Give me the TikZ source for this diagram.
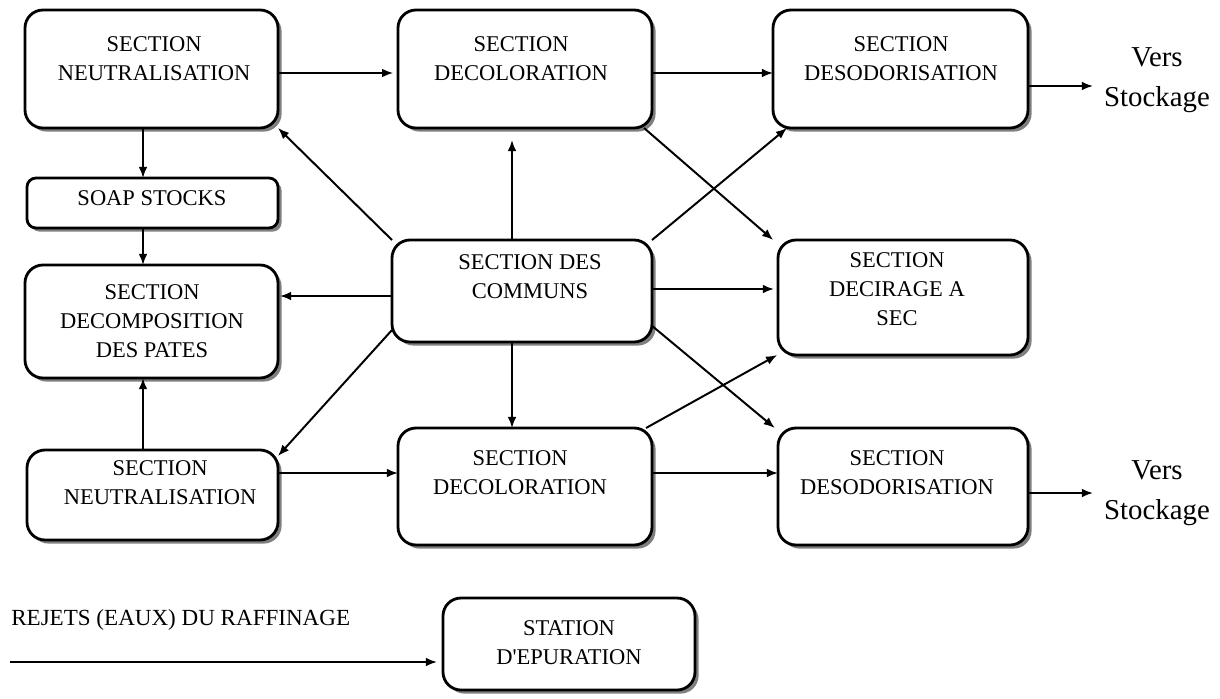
\documentclass[tikz,border=0pt]{standalone}
\usepackage{fontspec}
\setmainfont{Liberation Serif}[Ligatures=TeXOff]
\usetikzlibrary{arrows.meta,shadows}
\newlength\pxu
\pxu=0.025cm
\begin{document}
\begin{tikzpicture}[x=0.025cm,y=-0.025cm,
  procbox/.style={draw=black,line width=2pt,fill=white,rounded corners=18\pxu,
    inner sep=0pt,outer sep=0pt,
    drop shadow={shadow xshift=0.09cm,shadow yshift=-0.09cm,fill=black,opacity=0.5}},
  txt/.style={align=center,inner sep=0pt,font=\fontsize{16}{20.6}\selectfont},
  vers/.style={align=center,inner sep=0pt,font=\fontsize{20.5}{28.5}\selectfont},
  arr/.style={line width=1.4pt,-{Latex[length=0.28cm,width=0.22cm]}}]
\useasboundingbox (0,0) rectangle (1220,698);

% boxes
\node[procbox,minimum width=253\pxu,minimum height=118\pxu] (n1) at (151.5,69) {};
\node[procbox,minimum width=254\pxu,minimum height=118\pxu] (d1) at (525,69) {};
\node[procbox,minimum width=255\pxu,minimum height=118\pxu] (s1) at (900.5,69) {};
\node[procbox,rounded corners=9\pxu,minimum width=251\pxu,minimum height=50\pxu] (soap) at (152.5,203) {};
\node[procbox,minimum width=253\pxu,minimum height=113\pxu] (dcp) at (151.5,321.5) {};
\node[procbox,minimum width=260\pxu,minimum height=102\pxu] (com) at (522,291) {};
\node[procbox,minimum width=250\pxu,minimum height=115\pxu] (dec) at (903,297.5) {};
\node[procbox,minimum width=251\pxu,minimum height=90\pxu] (n2) at (152.5,495) {};
\node[procbox,minimum width=254\pxu,minimum height=117\pxu] (d2) at (525,486.5) {};
\node[procbox,minimum width=250\pxu,minimum height=117\pxu] (s2) at (903,486.5) {};
\node[procbox,minimum width=252\pxu,minimum height=92\pxu] (st) at (569,644) {};

% box texts
\node[txt] (tn1) at (154,58.5) {SECTION\\NEUTRALISATION};
\node[txt] (td1) at (521,58.5) {SECTION\\DECOLORATION};
\node[txt] (ts1) at (901,58.5) {SECTION\\DESODORISATION};
\node[txt] (tsoap) at (152,198) {SOAP STOCKS};
\node[txt] (tdcp) at (152,321) {SECTION\\DECOMPOSITION\\DES PATES};
\node[txt] (tcom) at (530,277) {SECTION DES\\COMMUNS};
\node[txt] (tdec) at (897,289) {SECTION\\DECIRAGE A\\SEC};
\node[txt] (tn2) at (160,483) {SECTION\\NEUTRALISATION};
\node[txt] (td2) at (520,473) {SECTION\\DECOLORATION};
\node[txt] (ts2) at (897,473) {SECTION\\DESODORISATION};
\node[txt] (tst) at (569,643) {STATION\\D'EPURATION};
\node[vers] (v1t) at (1157,80) {Vers\\Stockage};
\node[vers] (v2t) at (1157,493.5) {Vers\\Stockage};
\node[txt,anchor=west,font=\fontsize{16.4}{20}\selectfont] (rej) at (11,620) {REJETS (EAUX) DU RAFFINAGE};

% reference lines for straight connectors
\coordinate (lx) at (143,0);
\coordinate (mx) at (512,0);
\coordinate (r1) at (0,73);
\coordinate (r2) at (0,473);
\coordinate (rc) at (0,289);
\coordinate (rd) at (0,296);
\coordinate (v1) at (1093,86);
\coordinate (v2) at (1093,493);
\coordinate (rj) at (10,662);

% straight connectors
\draw[arr,shorten >=0.12cm] (n1.east |- r1) -- (d1.west |- r1);
\draw[arr] (d1.east |- r1) -- (s1.west |- r1);
\draw[arr] (s1.east |- v1) -- (v1);
\draw[arr] (n2.east |- r2) -- (d2.west |- r2);
\draw[arr] (d2.east |- r2) -- (s2.west |- r2);
\draw[arr] (s2.east |- v2) -- (v2);
\draw[arr] (n1.south -| lx) -- (soap.north -| lx);
\draw[arr] (soap.south -| lx) -- (dcp.north -| lx);
\draw[arr] (n2.north -| lx) -- (dcp.south -| lx);
\draw[arr,shorten >=0.3cm] (com.north -| mx) -- (d1.south -| mx);
\draw[arr] (com.south -| mx) -- (d2.north -| mx);
\draw[arr,shorten >=0.1cm] (com.east |- rc) -- (dec.west |- rc);
\draw[arr,shorten >=0.05cm] (com.west |- rd) -- (dcp.east |- rd);
\draw[arr,shorten >=0.15cm] (rj) -- (rj -| st.west);

% diagonal connectors
\draw[arr] (com.north west) -- (n1.south east);
\draw[arr] (com.north east) -- ([xshift=0.35cm]s1.south west);
\draw[arr] ([xshift=-0.2cm]d1.south east) -- ([xshift=-0.12cm]dec.north west);
\draw[arr] (com.-15.5) -- ([xshift=-0.08cm]s2.north west);
\draw[arr] ([xshift=-0.15cm]d2.north east) -- ([xshift=-0.02cm]dec.south west);
\draw[arr] ([yshift=0.3cm]com.south west) -- ([yshift=-0.15cm]n2.north east);
\end{tikzpicture}
\end{document}
